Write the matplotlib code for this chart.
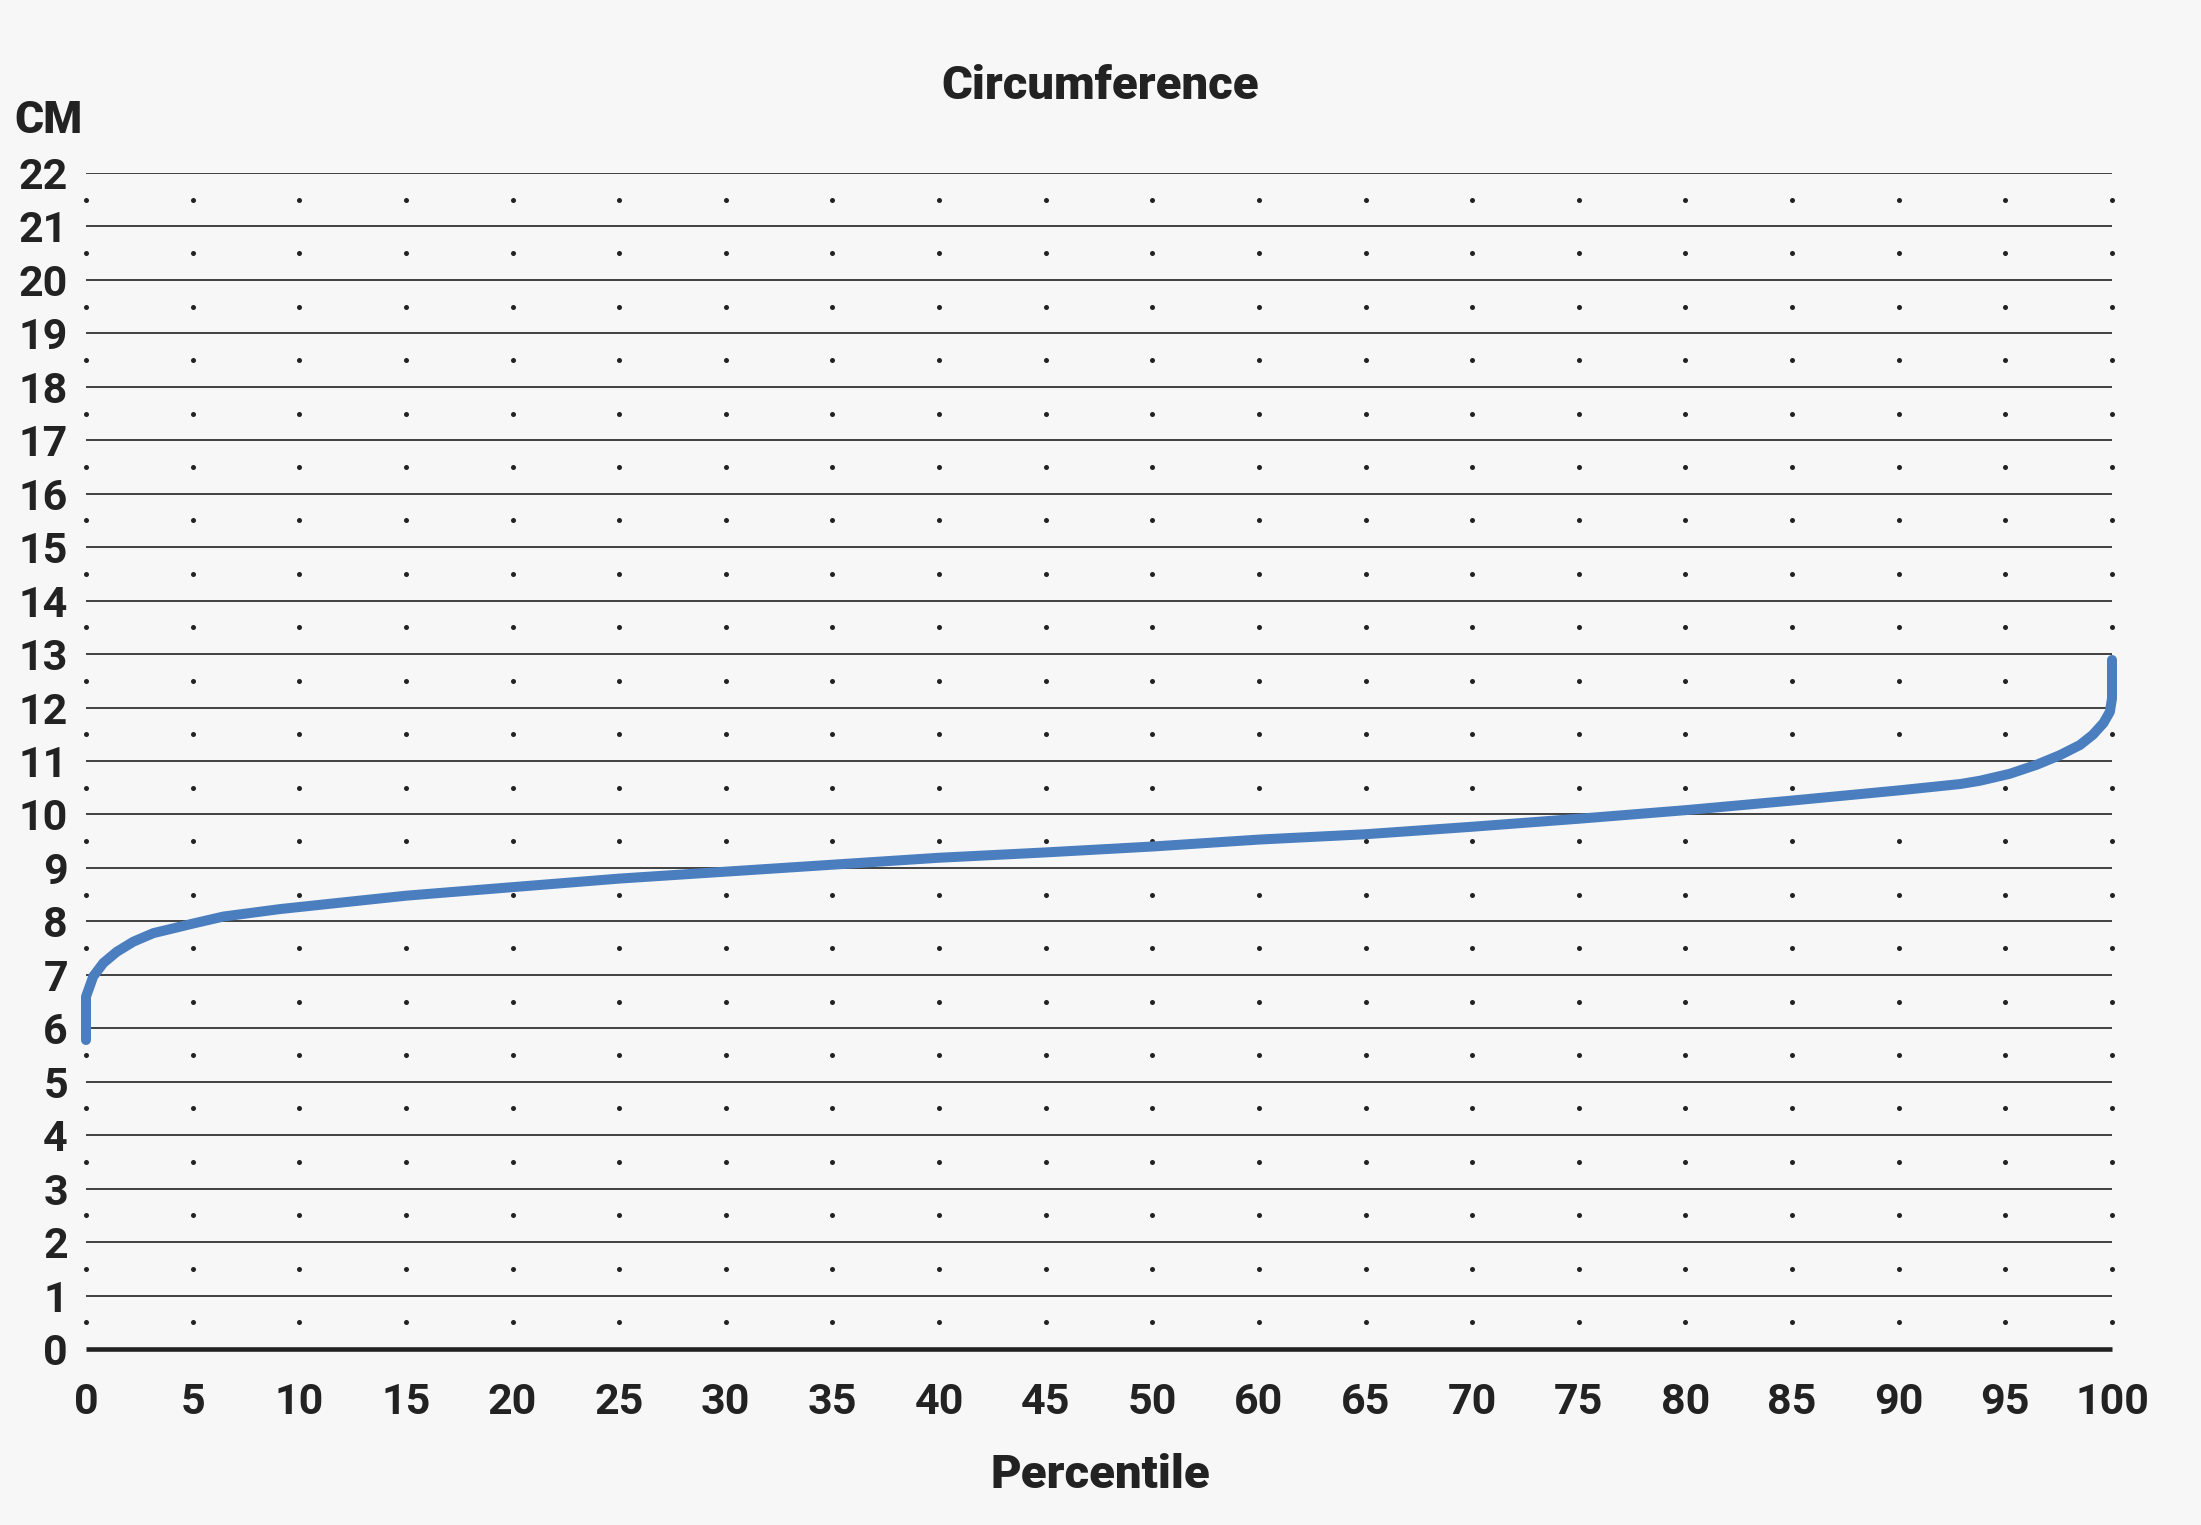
import numpy as np
import matplotlib.pyplot as plt

# Etiquetas del eje X tal como aparecen (no hay 55)
PERCENTIL_TICKS = [0, 5, 10, 15, 20, 25, 30, 35, 40, 45, 50, 60, 65, 70, 75, 80, 85, 90, 95, 100]
CM_TICKS = list(range(0, 23))

# Curva: percentil -> circunferencia (cm)
percentil = [0, 0, 0.34, 0.81, 1.44, 2.22, 3.16, 4.1, 5.03, 6.44, 9.1, 15, 20, 25, 30, 35,
             40, 45, 50, 60, 65, 70, 75, 80, 85, 90, 92.9, 93.8, 95.2, 96.47, 97.56, 98.5,
             99.1, 99.6, 99.9, 100, 100]
circunferencia = [5.78, 6.59, 6.97, 7.22, 7.43, 7.62, 7.78, 7.87, 7.96, 8.09, 8.23, 8.48, 8.64,
                  8.80, 8.93, 9.06, 9.19, 9.29, 9.40, 9.53, 9.63, 9.77, 9.92, 10.08, 10.26,
                  10.45, 10.57, 10.63, 10.76, 10.93, 11.11, 11.30, 11.49, 11.71, 11.92,
                  12.17, 12.89]

FONDO = '#f7f7f7'
NEGRO = '#222222'
AZUL = '#4a7ebf'

posiciones = np.arange(len(PERCENTIL_TICKS), dtype=float)
ticks_arr = np.array(PERCENTIL_TICKS, dtype=float)


def adelante(x):
    return np.interp(x, ticks_arr, posiciones)


def atras(p):
    return np.interp(p, posiciones, ticks_arr)


plt.rcParams['font.family'] = ['Roboto', 'DejaVu Sans']

fig = plt.figure(figsize=(22.01, 15.25), dpi=100, facecolor=FONDO)
ax = fig.add_axes([86 / 2201, 1 - 1349 / 1525, (2112 - 86) / 2201, (1349 - 173) / 1525])
ax.set_facecolor(FONDO)
ax.set_xscale('function', functions=(adelante, atras))
ax.set_xlim(0, 100)
ax.set_ylim(0, 22)

# lineas horizontales
ax.hlines(CM_TICKS[1:], 0, 100, color=NEGRO, lw=1.2, zorder=1)
ax.hlines([0], 0, 100, color=NEGRO, lw=3.3, zorder=2, clip_on=False)

# puntos de la cuadricula
gx, gy = np.meshgrid(PERCENTIL_TICKS, np.arange(0.5, 22, 1.0))
ax.plot(gx.ravel(), gy.ravel(), 'o', color=NEGRO, ms=3.6, mew=0, zorder=1, clip_on=False)

ax.plot(percentil, circunferencia, color=AZUL, lw=7.2, solid_capstyle='round',
        solid_joinstyle='round', zorder=3, clip_on=False)

for s in ax.spines.values():
    s.set_visible(False)
ax.set_xticks(PERCENTIL_TICKS)
ax.set_xticklabels([str(t) for t in PERCENTIL_TICKS])
ax.set_yticks(CM_TICKS)
ax.set_yticklabels([str(t) for t in CM_TICKS])
ax.minorticks_off()
ax.tick_params(axis='both', length=0, colors=NEGRO, labelsize=31)
ax.tick_params(axis='x', pad=24)
ax.tick_params(axis='y', pad=13)
for lbl in ax.get_xticklabels() + ax.get_yticklabels():
    lbl.set_fontweight('bold')

fig.text(1100 / 2201, 1 - 99 / 1525, 'Circumference', ha='center', va='baseline',
         fontsize=34, fontweight='heavy', color=NEGRO)
fig.text(1100 / 2201, 1 - 1488 / 1525, 'Percentile', ha='center', va='baseline',
         fontsize=34, fontweight='heavy', color=NEGRO)
fig.text(14 / 2201, 1 - 133 / 1525, 'CM', ha='left', va='baseline',
         fontsize=32, fontweight='heavy', color=NEGRO)

plt.savefig('out.png', dpi=100, facecolor=FONDO)
